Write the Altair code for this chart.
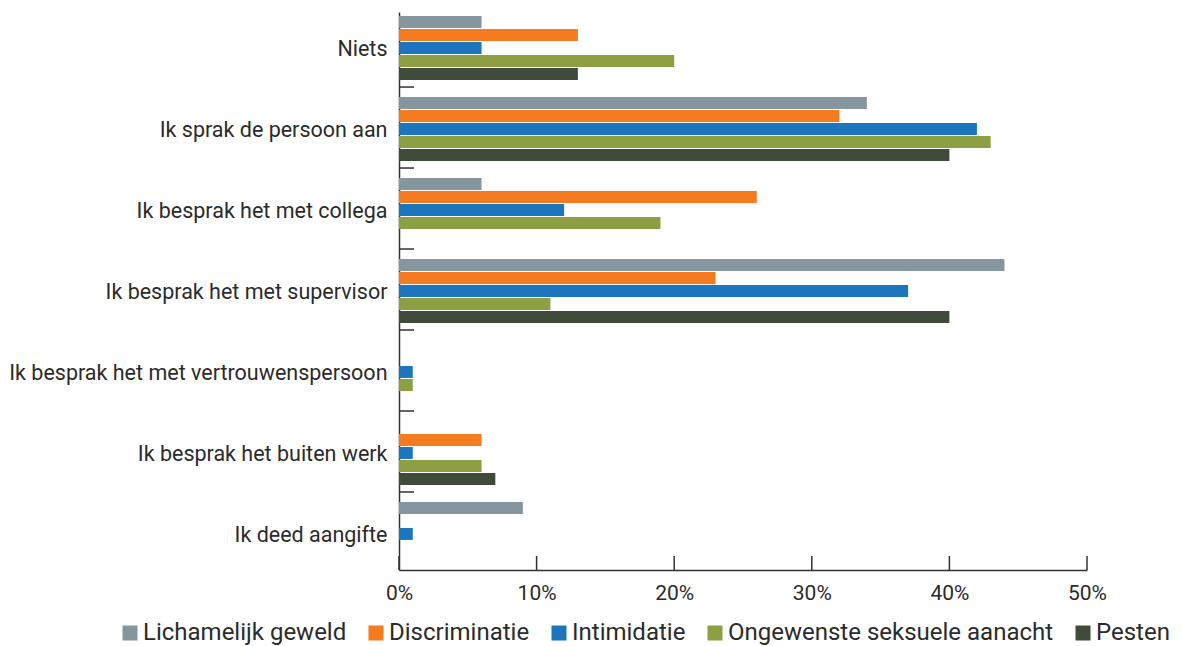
import altair as alt
import pandas as pd

categories = [
    "Niets",
    "Ik sprak de persoon aan",
    "Ik besprak het met collega",
    "Ik besprak het met supervisor",
    "Ik besprak het met vertrouwenspersoon",
    "Ik besprak het buiten werk",
    "Ik deed aangifte",
]
series = ["Lichamelijk geweld", "Discriminatie", "Intimidatie",
          "Ongewenste seksuele aanacht", "Pesten"]
colors = ["#85969e", "#f57b20", "#1d75be", "#8c9f43", "#3f4b3b"]

lichamelijk_geweld = [6, 34, 6, 44, 0, 0, 9]
discriminatie = [13, 32, 26, 23, 0, 6, 0]
intimidatie = [6, 42, 12, 37, 1, 1, 1]
ongewenst = [20, 43, 19, 11, 1, 6, 0]
pesten = [13, 40, 0, 40, 0, 7, 0]

x_ticks = [0, 10, 20, 30, 40, 50]

values = [lichamelijk_geweld, discriminatie, intimidatie, ongewenst, pesten]
rows = []
for s, vals in zip(series, values):
    for c, v in zip(categories, vals):
        rows.append({"cat": c, "series": s, "value": v})
df = pd.DataFrame(rows)

W, H = 688, 558
FONT = "Roboto"
TXT = "#2b2b2b"

y_enc = alt.Y("cat:N", sort=categories,
              scale=alt.Scale(paddingInner=0.21, paddingOuter=0.05),
              axis=alt.Axis(title=None, labelFontSize=21.5, labelColor=TXT,
                            labelFont=FONT, ticks=False, domainColor="#333333",
                            domainWidth=1.5, labelPadding=12, labelLimit=600,
                            labelOffset=2))

bars = alt.Chart(df).mark_bar().encode(
    x=alt.X("value:Q", scale=alt.Scale(domain=[0, 50]),
            axis=alt.Axis(title=None, values=x_ticks, grid=False, ticks=False,
                          labelExpr="datum.value + '%'", labelFontSize=21,
                          labelColor=TXT, labelFont=FONT, labelFlush=False,
                          domainColor="#333333", domainWidth=1.5, labelPadding=12)),
    y=y_enc,
    yOffset=alt.YOffset("series:N", sort=series,
                        scale=alt.Scale(paddingInner=0.08)),
    color=alt.Color("series:N", sort=series,
                    scale=alt.Scale(domain=series, range=colors),
                    legend=alt.Legend(title=None, orient="none", direction="horizontal",
                                      legendX=-281, legendY=609,
                                      labelFontSize=24, labelFont=FONT, labelLimit=600,
                                      labelColor=TXT, symbolType="square",
                                      symbolSize=225, symbolStrokeWidth=0,
                                      columnPadding=17, labelOffset=1)),
)

cat_df = pd.DataFrame({"cat": categories[1:]})
ytick = alt.Chart(cat_df).mark_rule(color="#333333", strokeWidth=1.5, yOffset=-10).encode(
    y=alt.Y("cat:N", sort=categories, bandPosition=0),
    x=alt.value(0), x2=alt.value(15),
)

tick_df = pd.DataFrame({"t": x_ticks})
xtick = alt.Chart(tick_df).mark_rule(color="#333333", strokeWidth=1.5).encode(
    x=alt.X("t:Q"),
    y=alt.value(H - 14), y2=alt.value(H),
)

chart = alt.layer(bars, ytick, xtick).properties(
    width=W, height=H, padding={"left": 0, "top": 4, "right": 0, "bottom": 0}
).configure(font=FONT).configure_view(stroke=None)

chart.save("out.html", embed_options={"renderer": "svg", "actions": False})
